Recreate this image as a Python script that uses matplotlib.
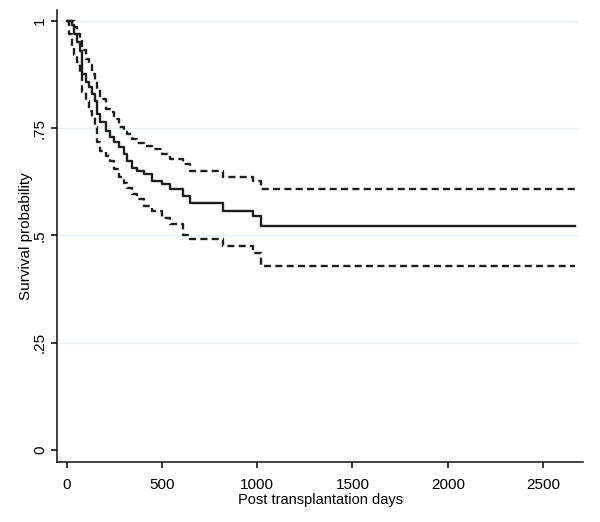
import numpy as np
import matplotlib
matplotlib.use("Agg")
import matplotlib.pyplot as plt

plt.rcParams['font.family'] = ['Liberation Sans', 'DejaVu Sans']

# Kaplan-Meier estimate with confidence band (step values)
days = [0, 12, 26, 38, 56, 68, 78, 99, 117, 134, 151, 160, 177, 204, 230, 247,
        273, 299, 317, 343, 369, 404, 447, 499, 543, 612, 647, 818, 978, 1021, 2667]
surv = [1.0, 1.0, 0.99, 0.97, 0.95, 0.93, 0.875, 0.857, 0.845, 0.829, 0.814, 0.783,
        0.763, 0.744, 0.728, 0.717, 0.705, 0.689, 0.674, 0.658, 0.650, 0.643, 0.627,
        0.619, 0.607, 0.592, 0.575, 0.557, 0.545, 0.522, 0.522]
upper = [1.0, 1.0, 1.0, 0.985, 0.970, 0.954, 0.931, 0.911, 0.896, 0.876, 0.861, 0.841,
         0.818, 0.794, 0.787, 0.771, 0.752, 0.740, 0.735, 0.724, 0.716, 0.709, 0.701,
         0.689, 0.678, 0.666, 0.650, 0.637, 0.627, 0.607, 0.607]
lower = [1.0, 0.97, 0.942, 0.919, 0.903, 0.880, 0.833, 0.814, 0.790, 0.775, 0.752, 0.717,
         0.697, 0.685, 0.674, 0.654, 0.635, 0.623, 0.610, 0.596, 0.584, 0.568, 0.557,
         0.541, 0.526, 0.500, 0.491, 0.475, 0.460, 0.428, 0.428]

xticks = [0, 500, 1000, 1500, 2000, 2500]
yticks = [0, 0.25, 0.5, 0.75, 1]
ytick_labels = ["0", ".25", ".5", ".75", "1"]

fig = plt.figure(figsize=(6, 5.22), dpi=100)
ax = fig.add_axes([0.0955, 0.1155, 0.876, 0.8655])

for yv in yticks[1:]:
    ax.plot([-49, 2677], [yv, yv], color="#e6eff1", lw=1, zorder=0)

ax.step(days, surv, where="post", color="#1e1e1e", lw=1.7)
ax.step(days, upper, where="post", color="#1e1e1e", lw=1.7, dashes=(3.0, 1.8))
ax.step(days, lower, where="post", color="#1e1e1e", lw=1.7, dashes=(3.0, 1.8))

ax.set_xlim(-49, 2709)
ax.set_ylim(-0.027, 1.025)
ax.spines['top'].set_visible(False)
ax.spines['right'].set_visible(False)
for s in ['left', 'bottom']:
    ax.spines[s].set_linewidth(1.1)
    ax.spines[s].set_color("#111111")

ax.set_xticks(xticks)
ax.set_xticklabels([str(t) for t in xticks], fontsize=11)
ax.set_yticks(yticks)
ax.set_yticklabels(ytick_labels, fontsize=11, rotation=90, va="center")
ax.tick_params(axis='x', length=4.5, width=1.1, pad=7)
ax.tick_params(axis='y', length=4.5, width=1.1, pad=3)

ax.set_xlabel("Post transplantation days", fontsize=10.5, labelpad=1)
ax.set_ylabel("Survival probability", fontsize=11, labelpad=0)

fig.savefig("out.png", dpi=100)
